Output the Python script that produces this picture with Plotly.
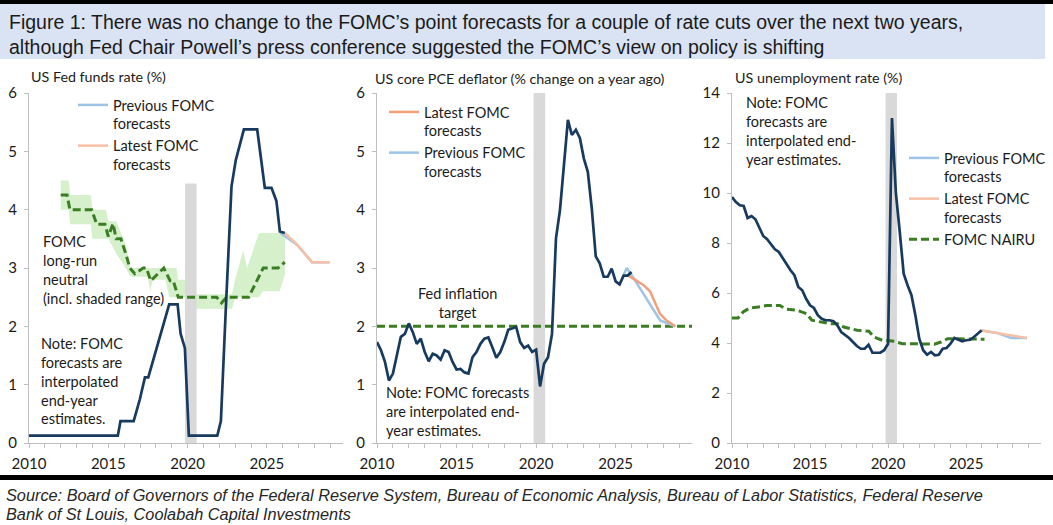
import plotly.graph_objects as go

W, H = 1053, 525

# ---------------- DATA ----------------
# Left panel: US Fed funds rate (%)
ffr_x = [2010.0, 2015.6, 2015.77, 2016.6, 2016.99, 2017.31, 2017.52, 2018.84, 2019.37, 2019.56,
         2019.83, 2020.08, 2021.87, 2022.1, 2022.41, 2022.77, 2023.04, 2023.3, 2023.55, 2024.39,
         2024.87, 2025.29, 2025.6, 2025.82, 2026.13]
ffr_y = [0.125, 0.125, 0.375, 0.375, 0.75, 1.125, 1.125, 2.375, 2.375, 1.875,
         1.625, 0.125, 0.125, 0.375, 2.3, 4.4, 4.85, 5.13, 5.375, 5.375,
         4.375, 4.375, 4.15, 3.625, 3.6]
ffr_prev_x = [2025.85, 2026.9, 2027.85, 2028.95]
ffr_prev_y = [3.6, 3.4, 3.1, 3.1]
ffr_latest_x = [2026.13, 2026.9, 2027.85, 2028.95]
ffr_latest_y = [3.6, 3.4, 3.1, 3.1]
neutral_x = [2012.0, 2012.4, 2012.58, 2013.95, 2014.27, 2014.79, 2015.0, 2015.3, 2015.5, 2015.8,
             2016.15, 2016.36, 2016.67, 2017.2, 2017.4, 2017.68, 2018.05, 2018.5, 2018.9, 2019.1,
             2019.41, 2021.83, 2022.14, 2022.46, 2023.85, 2024.77, 2025.71, 2026.13]
neutral_y = [4.25, 4.25, 4.0, 4.0, 3.75, 3.75, 3.54, 3.76, 3.5, 3.5,
             3.2, 3.0, 2.9, 3.0, 3.0, 2.78, 2.88, 3.0, 2.78, 2.78,
             2.5, 2.5, 2.4, 2.5, 2.5, 3.0, 3.0, 3.1]
band_x = [2012.0, 2012.5, 2012.6, 2013.9, 2014.0, 2014.85, 2015.0, 2015.5, 2016.1, 2016.4,
          2017.5, 2017.65, 2017.8, 2018.6, 2018.85, 2019.3, 2019.4, 2019.85, 2020.1, 2022.8,
          2023.0, 2023.5, 2023.75, 2024.5, 2024.75, 2025.8, 2026.15]
band_hi = [4.5, 4.5, 4.25, 4.25, 4.0, 4.0, 3.8, 3.8, 3.4, 3.0,
           3.0, 3.0, 3.0, 3.0, 3.0, 3.0, 2.8, 2.8, 2.55, 2.55,
           2.8, 3.3, 3.0, 3.6, 3.6, 3.6, 3.6]
band_lo = [4.0, 4.0, 3.75, 3.75, 3.5, 3.5, 3.5, 3.25, 3.0, 2.85,
           2.85, 2.6, 2.8, 2.8, 2.5, 2.5, 2.5, 2.5, 2.3, 2.3,
           2.5, 2.5, 2.5, 2.5, 2.6, 2.6, 2.9]

# Quarterly positions for core PCE and unemployment (2010Q1 .. 2026Q1)
quarters = [2010 + 0.25 * i for i in range(65)]

# Middle panel: US core PCE deflator (% y/y)
pce = [1.73, 1.59, 1.39, 1.07, 1.19, 1.53, 1.82, 1.87, 2.05, 1.90,
       1.70, 1.79, 1.56, 1.40, 1.53, 1.50, 1.43, 1.59, 1.56, 1.39,
       1.26, 1.27, 1.21, 1.19, 1.47, 1.56, 1.70, 1.79, 1.81, 1.64,
       1.46, 1.56, 1.73, 1.94, 1.96, 1.99, 1.73, 1.63, 1.67, 1.56,
       1.60, 0.97, 1.36, 1.47, 1.87, 3.51, 3.99, 4.80, 5.54, 5.28,
       5.37, 5.23, 4.88, 4.65, 4.02, 3.20, 3.08, 2.85, 2.85, 2.99,
       2.77, 2.72, 2.87, 2.87, 2.93]
pce_prev_x = [2025.5, 2025.7, 2026.1, 2027.8, 2028.75]
pce_prev_y = [2.88, 3.0, 2.84, 2.1, 2.0]
pce_latest_x = [2025.8, 2026.32, 2026.74, 2027.16, 2027.78, 2028.2, 2028.75]
pce_latest_y = [2.87, 2.78, 2.71, 2.6, 2.22, 2.1, 2.0]
target_x = [2010.0, 2029.8]
target_y = [2.0, 2.0]

# Right panel: US unemployment rate (%)
unemp = [9.84, 9.64, 9.51, 9.48, 9.0, 9.08, 8.95, 8.64, 8.28, 8.15,
         7.93, 7.75, 7.64, 7.4, 7.13, 6.91, 6.71, 6.24, 6.11, 5.77,
         5.51, 5.4, 5.11, 4.97, 4.91, 4.91, 4.87, 4.71, 4.44, 4.33,
         4.2, 4.04, 3.88, 3.77, 3.77, 3.93, 3.61, 3.61, 3.61, 3.71,
         3.97, 13.0, 10.0, 8.44, 6.77, 6.31, 5.91, 5.11, 4.17, 3.71,
         3.53, 3.64, 3.51, 3.53, 3.77, 3.8, 3.97, 4.2, 4.15, 4.07,
         4.11, 4.13, 4.24, 4.37, 4.51]
u_prev_x = [2026.0, 2027.0, 2027.9, 2028.9]
u_prev_y = [4.5, 4.4, 4.2, 4.2]
u_latest_x = [2026.0, 2027.0, 2028.0, 2028.9]
u_latest_y = [4.5, 4.4, 4.3, 4.2]
nairu_x = [2010.0, 2010.39, 2010.71, 2011.14, 2011.68, 2012.21, 2013.07, 2013.5, 2014.15, 2014.79,
           2015.11, 2015.65, 2016.3, 2016.77, 2017.16, 2018.02, 2018.77, 2019.09, 2019.63, 2020.27,
           2020.92, 2021.88, 2022.96, 2023.39, 2023.82, 2024.46, 2025.32, 2026.18]
nairu_y = [5.0, 5.0, 5.24, 5.4, 5.44, 5.5, 5.5, 5.35, 5.31, 5.17,
           4.91, 4.84, 4.77, 4.77, 4.64, 4.51, 4.47, 4.24, 4.11, 4.08,
           3.97, 3.97, 3.95, 4.04, 4.17, 4.17, 4.15, 4.15]

# Recession shading (2020)
rec_start, rec_end = 2019.84, 2020.57
rec_height = {"left": 4.45, "mid": 6.0, "right": 14.0}

# ---------------- STYLE ----------------
NAVY = "#173A5E"
LBLUE = "#9DC3E6"
PEACH = "#F7C0A6"
ORANGE = "#F2A07B"
GREEN = "#3B7D23"
BAND = "#D5F0CB"
GREY = "#D9D9D9"
AXC = "#BFBFBF"
FONT = "Lato"
TXT = "#1a1a1a"


def px(x):
    return x / W


def py(y):
    return 1 - y / H


fig = go.Figure()


def rect(xa, ya, h):
    return go.Scatter(x=[rec_start, rec_start, rec_end, rec_end, rec_start], y=[0, h, h, 0, 0],
                      xaxis=xa, yaxis=ya, mode="lines", line=dict(width=0), fill="toself",
                      fillcolor=GREY, showlegend=False, hoverinfo="skip")


# Left panel
fig.add_trace(go.Scatter(x=band_x, y=band_lo, xaxis="x", yaxis="y", mode="lines",
                         line=dict(width=0), showlegend=False, hoverinfo="skip"))
fig.add_trace(go.Scatter(x=band_x, y=band_hi, xaxis="x", yaxis="y", mode="lines",
                         line=dict(width=0), fill="tonexty", fillcolor=BAND,
                         showlegend=False, hoverinfo="skip"))
fig.add_trace(rect("x", "y", rec_height["left"]))
fig.add_trace(go.Scatter(x=neutral_x, y=neutral_y, xaxis="x", yaxis="y", mode="lines",
                         line=dict(color=GREEN, width=3, dash="8px,4px"), showlegend=False))
fig.add_trace(go.Scatter(x=ffr_prev_x, y=ffr_prev_y, xaxis="x", yaxis="y", mode="lines",
                         line=dict(color=LBLUE, width=2.5), name="Previous FOMC<br>forecasts",
                         legend="legend", legendrank=1))
fig.add_trace(go.Scatter(x=ffr_latest_x, y=ffr_latest_y, xaxis="x", yaxis="y", mode="lines",
                         line=dict(color=PEACH, width=2.5), name="Latest FOMC<br>forecasts",
                         legend="legend", legendrank=2))
fig.add_trace(go.Scatter(x=ffr_x, y=ffr_y, xaxis="x", yaxis="y", mode="lines",
                         line=dict(color=NAVY, width=2.7), showlegend=False))

# Middle panel
fig.add_trace(rect("x2", "y2", rec_height["mid"]))
fig.add_trace(go.Scatter(x=target_x, y=target_y, xaxis="x2", yaxis="y2", mode="lines",
                         line=dict(color=GREEN, width=3, dash="8px,4px"), showlegend=False))
fig.add_trace(go.Scatter(x=pce_prev_x, y=pce_prev_y, xaxis="x2", yaxis="y2", mode="lines",
                         line=dict(color=LBLUE, width=2.5), name="Previous FOMC<br>forecasts",
                         legend="legend2", legendrank=2))
fig.add_trace(go.Scatter(x=pce_latest_x, y=pce_latest_y, xaxis="x2", yaxis="y2", mode="lines",
                         line=dict(color=ORANGE, width=2.5), name="Latest FOMC<br>forecasts",
                         legend="legend2", legendrank=1))
fig.add_trace(go.Scatter(x=quarters, y=pce, xaxis="x2", yaxis="y2", mode="lines",
                         line=dict(color=NAVY, width=2.7), showlegend=False))

# Right panel
fig.add_trace(rect("x3", "y3", rec_height["right"]))
fig.add_trace(go.Scatter(x=nairu_x, y=nairu_y, xaxis="x3", yaxis="y3", mode="lines",
                         line=dict(color=GREEN, width=3, dash="8px,4px"), name="FOMC NAIRU",
                         legend="legend3", legendrank=3))
fig.add_trace(go.Scatter(x=u_prev_x, y=u_prev_y, xaxis="x3", yaxis="y3", mode="lines",
                         line=dict(color=LBLUE, width=2.5), name="Previous FOMC<br>forecasts",
                         legend="legend3", legendrank=1))
fig.add_trace(go.Scatter(x=u_latest_x, y=u_latest_y, xaxis="x3", yaxis="y3", mode="lines",
                         line=dict(color=PEACH, width=2.5), name="Latest FOMC<br>forecasts",
                         legend="legend3", legendrank=2))
fig.add_trace(go.Scatter(x=quarters, y=unemp, xaxis="x3", yaxis="y3", mode="lines",
                         line=dict(color=NAVY, width=2.7), showlegend=False))

# ---------------- AXES ----------------
ydom = [py(443), py(93)]
tickfont = dict(family=FONT, size=15, color=TXT)


def xax(dom, anchor):
    return dict(domain=dom, anchor=anchor, range=[2010, 2029.8], tick0=2010, dtick=5,
                showline=True, linecolor=AXC, linewidth=1, ticks="outside", ticklen=4,
                tickcolor=AXC, showgrid=False, zeroline=False, tickfont=tickfont,
                ticklabelstandoff=3, automargin=False,
                minor=dict(dtick=1, tick0=2010, ticks="outside", ticklen=4, tickcolor=AXC,
                           showgrid=False),
                fixedrange=True)


def yax(rng, dt, anchor):
    return dict(domain=ydom, anchor=anchor, range=rng, dtick=dt, tick0=0, showline=True,
                linecolor=AXC, linewidth=1, ticks="outside", ticklen=4, tickcolor=AXC,
                showgrid=False, zeroline=False, tickfont=tickfont, ticklabelstandoff=4,
                automargin=False, fixedrange=True)


legfont = dict(family=FONT, size=14.5, color=TXT)


def leg(x, y):
    return dict(x=px(x), y=py(y), xanchor="left", yanchor="top", bgcolor="rgba(0,0,0,0)",
                font=legfont, valign="top", itemclick=False, tracegroupgap=0,
                traceorder="normal")


fig.update_layout(
    template="none",
    width=W, height=H, margin=dict(l=0, r=0, t=0, b=0, pad=0, autoexpand=False),
    paper_bgcolor="white", plot_bgcolor="white",
    xaxis=xax([px(29), px(343)], "y"),
    yaxis=yax([0, 6], 1, "x"),
    xaxis2=xax([px(377), px(692)], "y2"),
    yaxis2=yax([0, 6], 1, "x2"),
    xaxis3=xax([px(732), px(1041)], "y3"),
    yaxis3=yax([0, 14], 2, "x3"),
    legend=leg(73, 89),
    legend2=leg(384, 96),
    legend3=leg(904, 142),
    showlegend=True,
)

# ---------------- DECORATION ----------------
shapes = [
    dict(type="rect", xref="paper", yref="paper", x0=0, x1=1, y0=py(4), y1=py(0),
         fillcolor="black", line=dict(width=0), layer="below"),
    dict(type="rect", xref="paper", yref="paper", x0=0, x1=px(1045), y0=py(59), y1=py(4),
         fillcolor="#DAE3F3", line=dict(width=0), layer="below"),
    dict(type="rect", xref="paper", yref="paper", x0=0, x1=1, y0=py(480), y1=py(475),
         fillcolor="black", line=dict(width=0), layer="below"),
]
fig.update_layout(shapes=shapes)

ann = []
title_font = dict(family="Liberation Sans", size=19.5, color=TXT)
ann.append(dict(xref="paper", yref="paper", x=px(7), y=py(22), xanchor="left", yanchor="middle",
                showarrow=False, font=title_font,
                text="Figure 1: There was no change to the FOMC\u2019s point forecasts for a couple of rate cuts over the next two years,"))
ann.append(dict(xref="paper", yref="paper", x=px(7), y=py(47), xanchor="left", yanchor="middle",
                showarrow=False, font=title_font,
                text="although Fed Chair Powell\u2019s press conference suggested the FOMC\u2019s view on policy is shifting"))

src_font = dict(family="Liberation Sans", size=16.3, color="#262626")
ann.append(dict(xref="paper", yref="paper", x=px(4), y=py(495), xanchor="left", yanchor="middle",
                showarrow=False, font=src_font,
                text="<i>Source: Board of Governors of the Federal Reserve System, Bureau of Economic Analysis, Bureau of Labor Statistics, Federal Reserve</i>"))
ann.append(dict(xref="paper", yref="paper", x=px(4), y=py(514), xanchor="left", yanchor="middle",
                showarrow=False, font=src_font,
                text="<i>Bank of St Louis, Coolabah Capital Investments</i>"))

axt_font = dict(family=FONT, size=14.3, color=TXT)
for x0, yy, t in [(29, 76, "US Fed funds rate (%)"),
                  (373, 79, "US core PCE deflator (% change on a year ago)"),
                  (733, 77, "US unemployment rate (%)")]:
    ann.append(dict(xref="paper", yref="paper", x=px(x0), y=py(yy), xanchor="left",
                    yanchor="middle", showarrow=False, font=axt_font, text=t))

nf = dict(family=FONT, size=14.5, color=TXT)
ann.append(dict(xref="x", yref="y", x=2010.76, y=2.97, xanchor="left", yanchor="middle",
                align="left", showarrow=False, font=nf,
                text="FOMC<br>long-run<br>neutral<br>(incl. shaded range)"))
ann.append(dict(xref="x", yref="y", x=2010.63, y=1.06, xanchor="left", yanchor="middle",
                align="left", showarrow=False, font=nf,
                text="Note: FOMC<br>forecasts are<br>interpolated<br>end-year<br>estimates."))
ann.append(dict(xref="x2", yref="y2", x=2015.04, y=2.4, xanchor="center", yanchor="middle",
                align="center", showarrow=False, font=nf, text="Fed inflation<br>target"))
ann.append(dict(xref="x2", yref="y2", x=2010.46, y=0.54, xanchor="left", yanchor="middle",
                align="left", showarrow=False, font=nf,
                text="Note: FOMC forecasts<br>are interpolated end-<br>year estimates."))
ann.append(dict(xref="x3", yref="y3", x=2010.75, y=12.48, xanchor="left", yanchor="middle",
                align="left", showarrow=False, font=nf,
                text="Note: FOMC<br>forecasts are<br>interpolated end-<br>year estimates."))
fig.update_layout(annotations=ann)

fig.write_html(
    "out.html",
    config={"displayModeBar": False, "responsive": False},
    post_script=("var gd=document.getElementById('{plot_id}');"
                 "document.documentElement.style.margin='0px';"
                 "document.documentElement.style.overflow='hidden';"
                 "document.body.style.margin='0px';"
                 "document.body.style.overflow='hidden';"
                 "gd.style.position='fixed';gd.style.left='0px';gd.style.top='0px';"),
)
